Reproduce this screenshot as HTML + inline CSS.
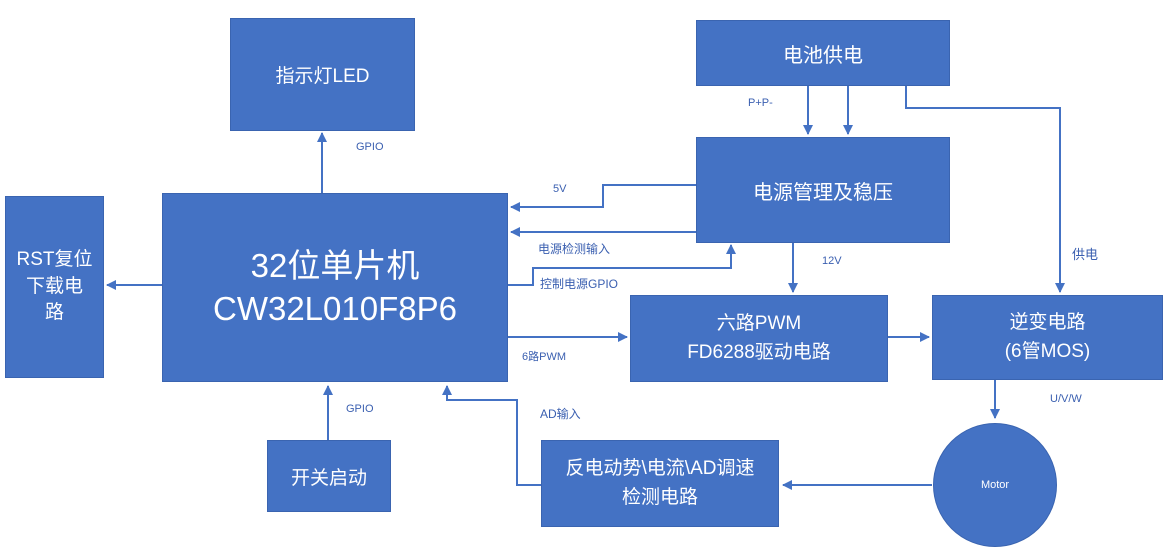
<!DOCTYPE html>
<html><head><meta charset="utf-8"><style>
body{margin:0;width:1176px;height:557px;background:#fff;overflow:hidden;font-family:"Liberation Sans","Noto Sans CJK SC",sans-serif}
.b{position:absolute;background:#4472c4;color:#fff;display:flex;align-items:center;justify-content:center;text-align:center;box-sizing:border-box;border:1px solid #3a64b0}
.l{position:absolute;color:#3a5fb0;font-size:11px;white-space:nowrap}
svg{position:absolute;left:0;top:0}
</style></head><body>
<svg width="1176" height="557">
<defs><marker id="a" markerWidth="10" markerHeight="10" refX="9" refY="5" orient="auto" markerUnits="userSpaceOnUse"><path d="M0,0L10,5L0,10z" fill="#4472c4"/></marker></defs>
<g stroke="#4472c4" stroke-width="2" fill="none" marker-end="url(#a)">
<path d="M808,86V134"/><path d="M848,86V134"/>
<path d="M906,86V108H1060V292"/>
<path d="M793,243V292"/>
<path d="M696,185H603V207H511"/>
<path d="M696,232H511"/>
<path d="M508,285H533V268H731V245"/>
<path d="M508,337H627"/>
<path d="M888,337H929"/>
<path d="M995,380V418"/>
<path d="M932,485H783"/>
<path d="M541,485H517V400H447V386"/>
<path d="M328,440V386"/>
<path d="M322,193V133"/>
<path d="M162,285H107"/>
</g></svg>
<div class="b" style="left:230px;top:18px;width:185px;height:113px;font-size:19px">指示灯LED</div>
<div class="b" style="left:162px;top:193px;width:346px;height:189px;font-size:33px;line-height:1.3">32位单片机<br>CW32L010F8P6</div>
<div class="b" style="left:5px;top:196px;width:99px;height:182px;font-size:19px;line-height:1.4">RST复位<br>下载电<br>路</div>
<div class="b" style="left:267px;top:440px;width:124px;height:72px;font-size:19px">开关启动</div>
<div class="b" style="left:541px;top:440px;width:238px;height:87px;font-size:19px;line-height:1.5">反电动势\电流\AD调速<br>检测电路</div>
<div class="b" style="left:696px;top:20px;width:254px;height:66px;font-size:20px">电池供电</div>
<div class="b" style="left:696px;top:137px;width:254px;height:106px;font-size:20px">电源管理及稳压</div>
<div class="b" style="left:630px;top:295px;width:258px;height:87px;font-size:19px;line-height:1.5">六路PWM<br>FD6288驱动电路</div>
<div class="b" style="left:932px;top:295px;width:231px;height:85px;font-size:19px;line-height:1.5">逆变电路<br>(6管MOS)</div>
<div class="b" style="left:933px;top:423px;width:124px;height:124px;border-radius:50%;font-size:11px">Motor</div>
<div class="l" style="left:748px;top:97px">P+P-</div>
<div class="l" style="left:1072px;top:244px;font-size:13px">供电</div>
<div class="l" style="left:822px;top:255px">12V</div>
<div class="l" style="left:553px;top:183px">5V</div>
<div class="l" style="left:538px;top:240px;font-size:12px">电源检测输入</div>
<div class="l" style="left:540px;top:275px;font-size:12px">控制电源GPIO</div>
<div class="l" style="left:522px;top:348px">6路PWM</div>
<div class="l" style="left:1050px;top:393px">U/V/W</div>
<div class="l" style="left:540px;top:405px;font-size:12px">AD输入</div>
<div class="l" style="left:346px;top:403px">GPIO</div>
<div class="l" style="left:356px;top:141px">GPIO</div>
</body></html>
